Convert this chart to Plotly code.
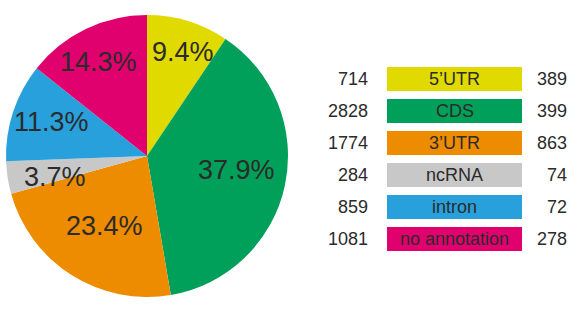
import math
import plotly.graph_objects as go

categories = ["5'UTR".replace("'", "\u2019"), "CDS", "3\u2019UTR", "ncRNA", "intron", "no annotation"]
percents = [9.4, 37.9, 23.4, 3.7, 11.3, 14.3]
left_counts = [714, 2828, 1774, 284, 859, 1081]
right_counts = [389, 399, 863, 74, 72, 278]
colors = ["#E0DA00", "#00A05A", "#EE8C00", "#C8C8C8", "#28A0DC", "#E0006E"]

W, H = 581, 309
FONT = "Liberation Sans, Arial, sans-serif"
TXT = "#2b2b2b"

# pie geometry (pixels)
cx, cy, r = 147, 156, 141
dom_x = [(cx - r) / W, (cx + r) / W]
dom_y = [(H - (cy + r)) / H, (H - (cy - r)) / H]

fig = go.Figure()
fig.add_trace(go.Pie(
    labels=categories, values=percents, sort=False, direction="clockwise",
    rotation=0, marker=dict(colors=colors, line=dict(width=0)),
    textinfo="none", hoverinfo="label+percent", showlegend=False,
    domain=dict(x=dom_x, y=dom_y),
))

annotations = []
radial = [0.78, 0.64, 0.58, 0.67, 0.72, 0.75]
angle_adj = [2, -3, -1, -4, 1.5, -1.5]
total = sum(percents)
cum = 0.0
for i, p in enumerate(percents):
    mid = (cum + p / 2) / total * 360 + angle_adj[i]
    cum += p
    a = math.radians(mid)
    px = cx + radial[i] * r * math.sin(a)
    py = cy - radial[i] * r * math.cos(a)
    annotations.append(dict(
        x=px / W, y=1 - py / H, xref="paper", yref="paper",
        text=f"{p:.1f}%", showarrow=False, xanchor="center", yanchor="middle",
        font=dict(family=FONT, size=27, color=TXT),
    ))

shapes = []
row0, dy, bh = 79, 32, 24
bx0, bx1 = 387, 522
for i, cat in enumerate(categories):
    yc = row0 + i * dy
    shapes.append(dict(
        type="rect", xref="paper", yref="paper",
        x0=bx0 / W, x1=bx1 / W, y0=1 - (yc + bh / 2) / H, y1=1 - (yc - bh / 2) / H,
        fillcolor=colors[i], line=dict(width=0), layer="below",
    ))
    annotations.append(dict(
        x=(bx0 + bx1) / 2 / W, y=1 - yc / H, xref="paper", yref="paper",
        text=cat, showarrow=False, xanchor="center", yanchor="middle",
        font=dict(family=FONT, size=18, color=TXT),
    ))
    annotations.append(dict(
        x=370 / W, y=1 - yc / H, xref="paper", yref="paper",
        text=str(left_counts[i]), showarrow=False, xanchor="right", yanchor="middle",
        font=dict(family=FONT, size=18, color=TXT),
    ))
    annotations.append(dict(
        x=569 / W, y=1 - yc / H, xref="paper", yref="paper",
        text=str(right_counts[i]), showarrow=False, xanchor="right", yanchor="middle",
        font=dict(family=FONT, size=18, color=TXT),
    ))

fig.update_layout(
    width=W, height=H, margin=dict(l=0, r=0, t=0, b=0),
    paper_bgcolor="white", plot_bgcolor="white",
    annotations=annotations, shapes=shapes,
)

fig.write_html("out.html")
